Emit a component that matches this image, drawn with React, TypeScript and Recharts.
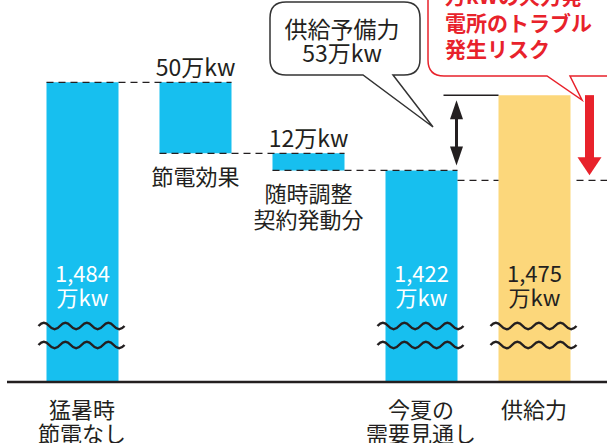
import React from "react";
import { BarChart, Bar, XAxis, YAxis, Cell } from "recharts";

// values in 万kW
const categories = ["猛暑時節電なし", "節電効果", "随時調整契約発動分", "今夏の需要見通し", "供給力"];
const barValues = [1484, 50, 12, 1422, 1475];
const barKinds = ["total", "step", "step", "total", "supply"];
const supplyReserve = 53;
const riskLevel = 1415;
const riskLines = ["万kWの火力発", "電所のトラブル", "発生リスク"];

const tickLines = [["猛暑時", "節電なし"], [], [], ["今夏の", "需要見通し"], ["供給力"]];
const sideLines = [[], ["節電効果"], ["随時調整", "契約発動分"], [], []];

const Y_MIN = 1273;
const Y_MAX = 1542;

const W = 607;
const H = 443;
const MARGIN = { top: 0, right: 0, left: 7, bottom: 0 };
const PAD = { left: 18.5, right: 16.5 };
const BAND = (W - MARGIN.left - MARGIN.right - PAD.left - PAD.right) / categories.length;

const BLUE = "#17BFEF";
const YELLOW = "#FCD77B";
const RED = "#E8222B";
const INK = "#231F20";
const FONT = "'Noto Sans CJK JP', 'Noto Sans', sans-serif";

// waterfall ranges built from the values
let level = 0;
const ranges: [number, number][] = barValues.map((v, i) => {
  if (barKinds[i] === "step") {
    const r: [number, number] = [level - v, level];
    level -= v;
    return r;
  }
  if (barKinds[i] === "total") level = v;
  return [Y_MIN, v];
});

const data = categories.map((name, i) => ({ name, range: ranges[i] }));

const fmt = (v: number) => v.toLocaleString("en-US");

const wavePath = (x0: number, x1: number, yc: number, humps = 4, amp = 3.2) => {
  const half = (x1 - x0) / (humps * 2);
  let d = `M${x0},${yc}`;
  for (let i = 0; i < humps * 2; i++) {
    const dir = i % 2 === 0 ? -1 : 1;
    d += ` Q${x0 + (i + 0.5) * half},${yc + dir * amp * 2} ${x0 + (i + 1) * half},${yc}`;
  }
  return d;
};

const dash = { stroke: INK, strokeWidth: 1.4, strokeDasharray: "7 5" };

function Tick(props: any) {
  const { x, y, index } = props;
  const lines = tickLines[index] || [];
  return (
    <g>
      {lines.map((t, i) => (
        <text
          key={i}
          x={x}
          y={y + 26 + i * 24}
          textAnchor="middle"
          dominantBaseline="central"
          fontSize={22}
          fontFamily={FONT}
          fill={INK}
        >
          {t}
        </text>
      ))}
    </g>
  );
}

function Overlay(props: any) {
  const { x, y, width, height, index } = props;
  const [lo, hi] = ranges[index];
  const k = height / (hi - lo);
  const yAt = (v: number) => y + (hi - v) * k;
  const bottom = y + height;
  const cx = x + width / 2;
  const kind = barKinds[index];
  const out: React.ReactNode[] = [];

  if (kind === "step") {
    if (index === 1) {
      out.push(<line key="dt" x1={x - BAND} x2={x + width} y1={y} y2={y} {...dash} />);
    }
    out.push(<line key="db" x1={x} x2={x + width + BAND} y1={bottom} y2={bottom} {...dash} />);
    out.push(
      <text key="v" x={cx} y={y - 16} textAnchor="middle" dominantBaseline="central"
        fontSize={23} fontFamily={FONT} fill={INK}>
        {fmt(barValues[index])}万kw
      </text>
    );
    sideLines[index].forEach((t, i) =>
      out.push(
        <text key={"s" + i} x={cx} y={bottom + 22 + i * 26} textAnchor="middle"
          dominantBaseline="central" fontSize={22} fontFamily={FONT} fill={INK}>
          {t}
        </text>
      )
    );
  } else {
    const fill = kind === "supply" ? INK : "#fff";
    out.push(
      <text key="v1" x={cx} y={bottom - 110} textAnchor="middle" dominantBaseline="central"
        fontSize={22} fontFamily={FONT} fill={fill}>
        {fmt(barValues[index])}
      </text>,
      <text key="v2" x={cx} y={bottom - 86} textAnchor="middle" dominantBaseline="central"
        fontSize={22} fontFamily={FONT} fill={fill}>
        万kw
      </text>
    );
    [56, 37].forEach((o, i) =>
      out.push(
        <path key={"w" + i} d={wavePath(x - 8, x + width + 6, bottom - o)}
          fill="none" stroke={INK} strokeWidth={2.4} />
      )
    );
  }

  if (kind === "supply") {
    const top = y;
    const demand = yAt(hi - supplyReserve);
    const risk = yAt(riskLevel);
    const ax = x - 42;
    const t0 = top + 5;
    const b0 = demand - 5;
    out.push(
      <line key="sl" x1={x - 55} x2={x} y1={top} y2={top} stroke={INK} strokeWidth={1.5} />,
      <line key="as" x1={ax} x2={ax} y1={t0 + 14} y2={b0 - 14} stroke={INK} strokeWidth={3} />,
      <path key="ah1" d={`M${ax},${t0} L${ax + 6.5},${t0 + 19} L${ax - 6.5},${t0 + 19} Z`} fill={INK} />,
      <path key="ah2" d={`M${ax},${b0} L${ax + 6.5},${b0 - 19} L${ax - 6.5},${b0 - 19} Z`} fill={INK} />,
      <line key="r1" x1={x - 41} x2={x} y1={risk} y2={risk} {...dash} />,
      <line key="r2" x1={x + width + 6} x2={W} y1={risk} y2={risk} {...dash} />
    );
    const rx = x + width + 19;
    const rb = risk - 5;
    out.push(
      <rect key="rs" x={rx - 4.5} y={top} width={9} height={rb - top - 16} fill={RED} />,
      <path key="rh" d={`M${rx},${rb} L${rx + 12},${rb - 18} L${rx - 12},${rb - 18} Z`} fill={RED} />
    );
  }
  return <g>{out}</g>;
}

function Callouts() {
  const bubble =
    "M286,2 H404 Q420,2 420,18 V59 Q420,75 404,75 H393 L433,127 L363,75 H286 Q270,75 270,59 V18 Q270,2 286,2 Z";
  const redBubble =
    "M444,-30 H640 V76 H570 L582,100 L547,76 H444 Q428,76 428,60 V-14 Q428,-30 444,-30 Z";
  return (
    <svg width={W} height={H} style={{ position: "absolute", left: 0, top: 0, pointerEvents: "none" }}>
      <path d={bubble} fill="#fff" stroke="#333" strokeWidth={1.5} />
      <text x={342} y={28} textAnchor="middle" dominantBaseline="central" fontSize={23}
        fontFamily={FONT} fill={INK}>
        供給予備力
      </text>
      <text x={342} y={52} textAnchor="middle" dominantBaseline="central" fontSize={23}
        fontFamily={FONT} fill={INK}>
        {supplyReserve}万kw
      </text>
      <path d={redBubble} fill="#fff" stroke={RED} strokeWidth={1.5} />
      {riskLines.map((t, i) => (
        <text key={i} x={445} y={-5 + i * 26.5} dominantBaseline="central" fontSize={21}
          fontWeight="bold" fontFamily={FONT} fill={RED}>
          {t}
        </text>
      ))}
    </svg>
  );
}

export default function App() {
  return (
    <div style={{ position: "absolute", left: 0, top: 0, width: W, height: H, background: "#fff" }}>
      <BarChart width={W} height={H} data={data} margin={MARGIN}>
        <XAxis
          dataKey="name"
          height={61}
          padding={PAD}
          axisLine={{ stroke: INK, strokeWidth: 2.5 }}
          tickLine={false}
          tickSize={0}
          tickMargin={0}
          interval={0}
          tick={<Tick />}
        />
        <XAxis xAxisId="over" dataKey="name" hide padding={PAD} />
        <YAxis hide type="number" domain={[Y_MIN, Y_MAX]} allowDataOverflow />
        <Bar dataKey="range" barSize={72} isAnimationActive={false}>
          {data.map((_, i) => (
            <Cell key={i} fill={barKinds[i] === "supply" ? YELLOW : BLUE} />
          ))}
        </Bar>
        <Bar
          dataKey="range"
          xAxisId="over"
          barSize={72}
          fill="none"
          isAnimationActive={false}
          shape={<Overlay />}
        />
      </BarChart>
      <Callouts />
    </div>
  );
}
